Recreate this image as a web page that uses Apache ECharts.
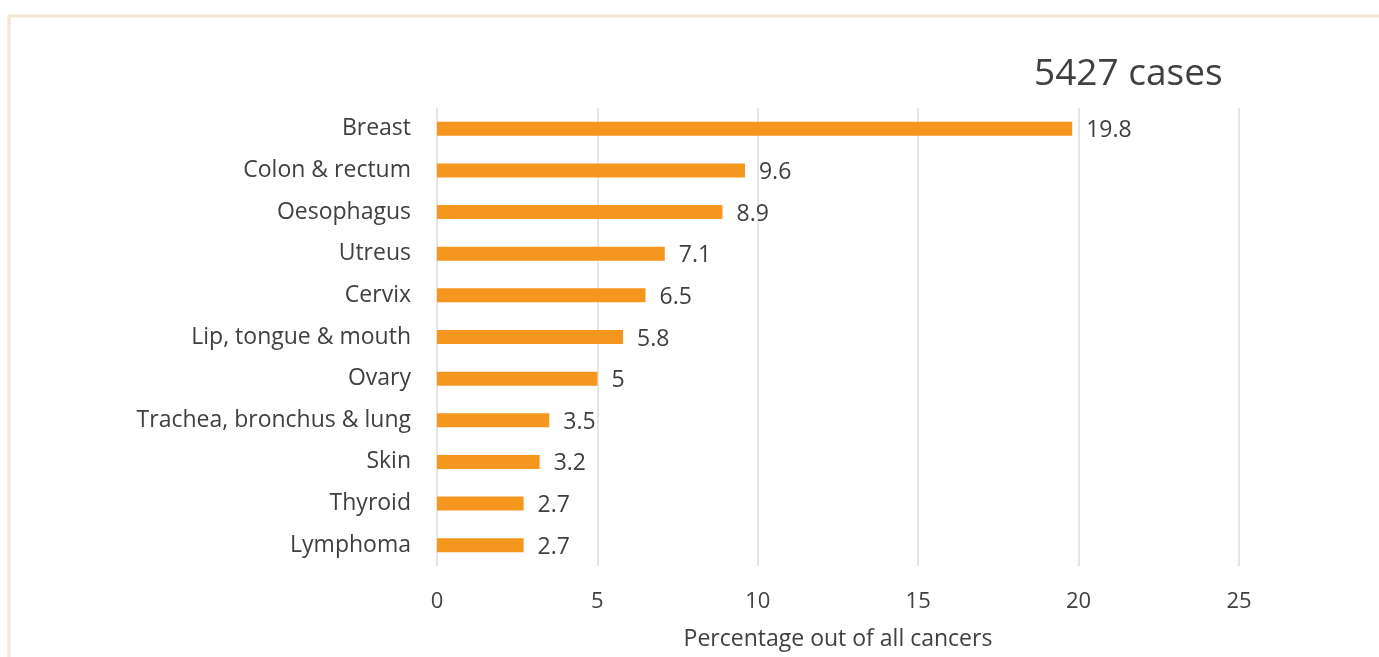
<!DOCTYPE html>
<html><head><meta charset="utf-8">
<script src="https://cdn.jsdelivr.net/npm/echarts@6/dist/echarts.min.js"></script>
<style>html,body{margin:0;padding:0;background:#fff}#c{width:1379px;height:657px}</style>
</head><body><div id="c"></div>
<script>
const categories = ["Breast","Colon & rectum","Oesophagus","Utreus","Cervix","Lip, tongue & mouth","Ovary","Trachea, bronchus & lung","Skin","Thyroid","Lymphoma"];
const values = [19.8,9.6,8.9,7.1,6.5,5.8,5,3.5,3.2,2.7,2.7];
const xTicks = [0,5,10,15,20,25];
const titleText = "5427 cases";
const axisName = "Percentage out of all cancers";

const font = "Open Sans";
const chart = echarts.init(document.getElementById('c'));
chart.setOption({
  animation:false,
  textStyle:{fontFamily:font},
  graphic:[{type:'rect',shape:{x:9,y:16,width:1400,height:700},style:{fill:'none',stroke:'#f3e6d4',lineWidth:3},z:-1}],
  title:{text:titleText,left:1029,top:51,textStyle:{fontFamily:font,fontSize:37,fontWeight:'normal',color:'#404040'}},
  grid:{left:437,right:140,top:108,bottom:91},
  xAxis:{type:'value',min:xTicks[0],max:xTicks[xTicks.length-1],interval:5,
    name:axisName,nameLocation:'middle',nameGap:62,
    nameTextStyle:{fontFamily:font,fontSize:23,color:'#404040'},
    axisLine:{show:false},axisTick:{show:false},
    axisLabel:{fontFamily:font,fontSize:22,color:'#404040',margin:25},
    splitLine:{lineStyle:{color:'#dcdcdc',width:1.5}}},
  yAxis:{type:'category',inverse:true,data:categories,
    axisLine:{show:false},axisTick:{show:false},
    axisLabel:{fontFamily:font,fontSize:23,color:'#404040',margin:26,padding:[4,0,0,0]}},
  series:[{type:'bar',data:values,barWidth:14,itemStyle:{color:'#F5961F'},
    label:{show:true,position:'right',distance:14,offset:[0,2],fontFamily:font,fontSize:23,color:'#404040'}}]
});
</script></body></html>
